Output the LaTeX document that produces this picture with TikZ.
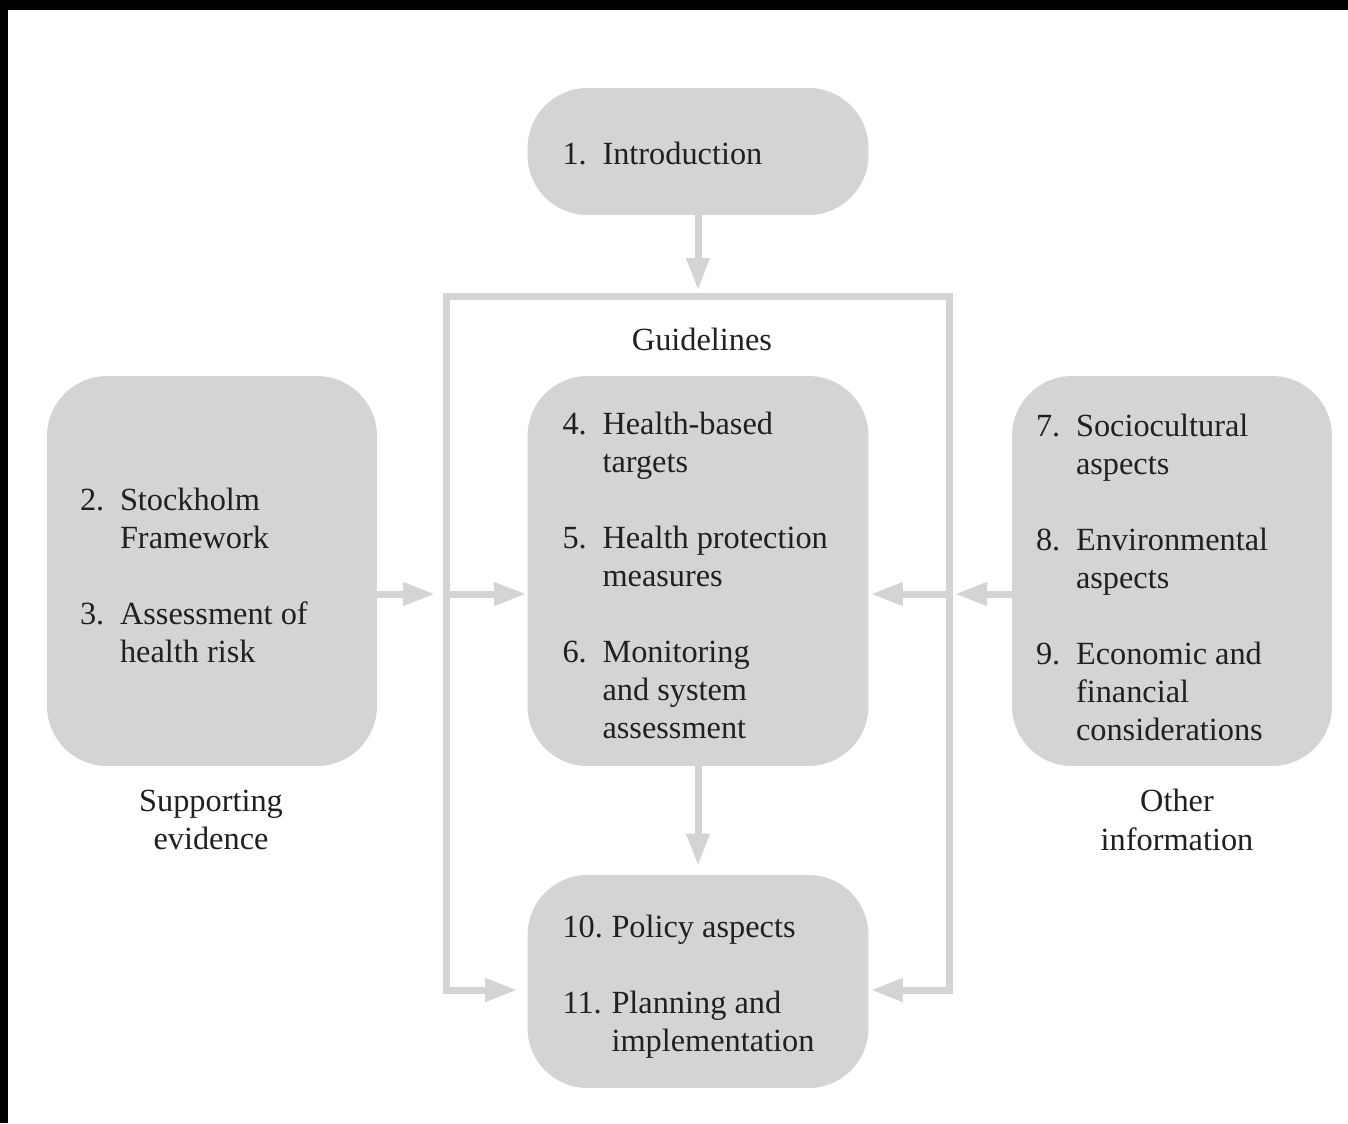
\documentclass[tikz,border=0pt]{standalone}
\usepackage{fontspec}
\setmainfont{Liberation Serif}
\usetikzlibrary{arrows.meta,positioning}
\definecolor{boxgray}{RGB}{211,212,214}
\definecolor{inkgray}{RGB}{35,31,32}

\begin{document}
\begin{tikzpicture}[
  x=0.02cm, y=-0.02cm,
  chap/.style={fill=boxgray, rounded corners=1.2cm, inner sep=0pt},
  txt/.style={inner sep=0pt, anchor=west, text=inkgray,
              font=\fontsize{18.4}{21.6}\selectfont},
  caplbl/.style={inner sep=0pt, align=center, text=inkgray,
              font=\fontsize{18.4}{22}\selectfont},
  arr/.style={boxgray, line width=0.14cm,
              -{Triangle[length=0.64cm, width=0.44cm]}}
]
%% Page with black edge at top and left
\useasboundingbox (0,0) rectangle (1348,1123);
\fill[black] (0,0) rectangle (1348,1123);
\fill[white] (8,10) rectangle (1348,1123);

%% Chapter boxes
\node[chap, minimum width=6.82cm, minimum height=2.54cm] (intro) at (698,151.5) {};
\node[chap, minimum width=6.82cm, minimum height=7.8cm]  (guide) at (698,571) {};
\node[chap, minimum width=6.6cm,  minimum height=7.8cm]  (sev)   at (212,571) {};
\node[chap, minimum width=6.4cm,  minimum height=7.8cm]  (oth)   at (1172,571) {};
\node[chap, minimum width=6.82cm, minimum height=4.26cm] (pol)   at (698,981.5) {};

%% Box texts
\node[txt] (introtxt) at ([xshift=0.7cm, yshift=-0.11cm]intro.west)
  {\begin{tabular}{@{}p{0.8cm}@{}l@{}}1. & Introduction\end{tabular}};
\node[txt] (guidetxt) at ([xshift=0.7cm, yshift=-0.16cm]guide.west)
  {\begin{tabular}{@{}p{0.8cm}@{}l@{}}
    4. & Health-based\\
       & targets\\[0.76cm]
    5. & Health protection\\
       & measures\\[0.76cm]
    6. & Monitoring\\
       & and system\\
       & assessment
  \end{tabular}};
\node[txt] (sevtxt) at ([xshift=0.66cm, yshift=-0.15cm]sev.west)
  {\begin{tabular}{@{}p{0.8cm}@{}l@{}}
    2. & Stockholm\\
       & Framework\\[0.76cm]
    3. & Assessment of\\
       & health risk
  \end{tabular}};
\node[txt] (othtxt) at ([xshift=0.48cm, yshift=-0.2cm]oth.west)
  {\begin{tabular}{@{}p{0.8cm}@{}l@{}}
    7. & Sociocultural\\
       & aspects\\[0.76cm]
    8. & Environmental\\
       & aspects\\[0.76cm]
    9. & Economic and\\
       & financial\\
       & considerations
  \end{tabular}};
\node[txt] (poltxt) at ([xshift=0.7cm, yshift=-0.11cm]pol.west)
  {\begin{tabular}{@{}p{0.98cm}@{}l@{}}
    10. & Policy aspects\\[0.76cm]
    11. & Planning and\\
        & implementation
  \end{tabular}};

%% Captions
\node[caplbl] (guidelbl) at (702,339) {Guidelines};
\node[caplbl] (sevlbl)   at (211,820) {Supporting\\evidence};
\node[caplbl] (othlbl)   at (1177,820) {Other\\information};

%% Guidelines frame corners and arrow rows
\coordinate (gtop) at (698,296.5);
\coordinate (fbl)  at (446,990);
\coordinate (fbr)  at (949,990);
\coordinate (ml)   at (446,594);
\coordinate (mr)   at (949,594);

%% Frame sides run into arrows to the bottom box
\draw[arr] (gtop) -| (fbl) -- ([xshift=-0.2cm]pol.west |- fbl);
\draw[arr] (gtop) -| (fbr) -- ([xshift=0.04cm]pol.east |- fbr);

%% Arrows
\draw[arr, shorten >=0.13cm] (intro.south) -- (intro.south |- gtop);
\draw[arr, shorten >=0.22cm] (sev.east |- ml) -- (ml);
\draw[arr, shorten >=0.02cm] (ml) -- (guide.west |- ml);
\draw[arr, shorten >=0.12cm] (oth.west |- mr) -- (mr);
\draw[arr, shorten >=0.04cm] (mr) -- (guide.east |- mr);
\draw[arr, shorten >=0.18cm] (guide.south) -- (pol.north);
\end{tikzpicture}
\end{document}
